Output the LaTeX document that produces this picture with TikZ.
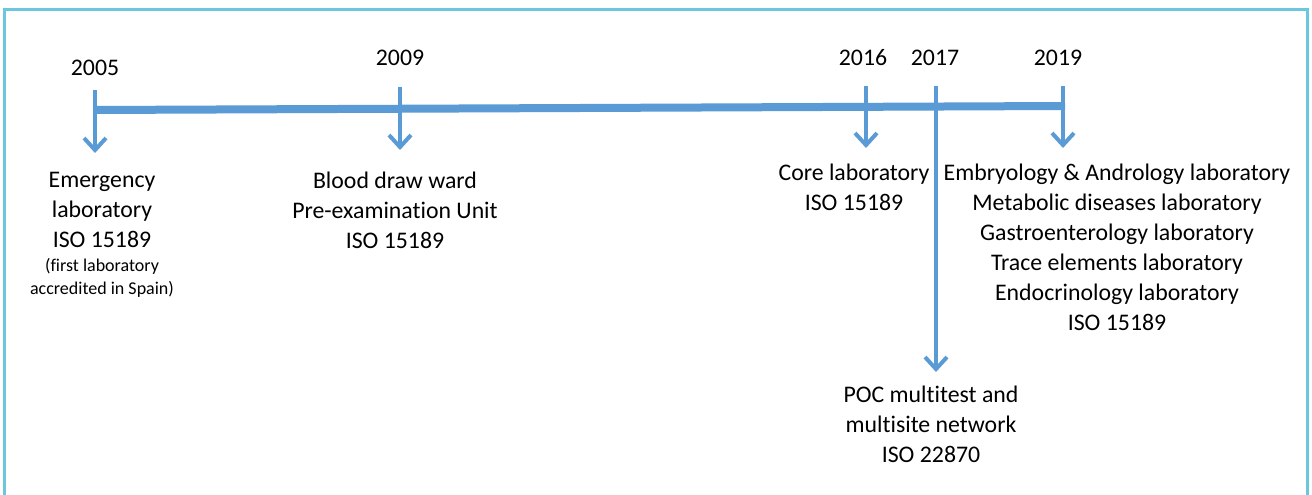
\documentclass[tikz,border=0pt]{standalone}
\usepackage{fontspec}
\setmainfont{Carlito}[Ligatures={NoCommon}]
\usetikzlibrary{arrows.meta}
\definecolor{tl}{HTML}{5B9BD5}
\definecolor{fr}{HTML}{6CC6DE}
\begin{document}
\begin{tikzpicture}[x=1pt,y=-1pt,
  txt/.style={inner sep=0pt,align=center,font=\fontsize{23.8}{30}\selectfont},
  small/.style={inner sep=0pt,align=center,font=\fontsize{18}{23}\selectfont},
  tick/.style={draw=tl,line width=4pt,-{Straight Barb[length=12pt,width=22pt]}},
  bar/.style={draw=tl,line width=8pt}]
\useasboundingbox (0,0) rectangle (1312,495);
\fill[white] (0,0) rectangle (1312,495);
\draw[fr,line width=3pt] (4.5,520) -- (4.5,10) -- (1307.5,10) -- (1307.5,520);
% years
\node[txt] (y2005) at (95,68) {2005};
\node[txt] (y2009) at (400,58) {2009};
\node[txt] (y2016) at (863,58) {2016};
\node[txt] (y2017) at (935,58) {2017};
\node[txt] (y2019) at (1058,58) {2019};
% timeline
\coordinate (s) at (95,110);
\coordinate (e) at (1065,106);
\draw[bar] (s) -- (e);
% ticks
\coordinate (t1a) at (95,90);   \coordinate (t1b) at (95,153);
\coordinate (t2a) at (400,87);  \coordinate (t2b) at (400,150);
\coordinate (t3a) at (866,86);  \coordinate (t3b) at (866,148);
\coordinate (t4a) at (936,86);  \coordinate (t4b) at (936,372);
\coordinate (t5a) at (1063,86); \coordinate (t5b) at (1063,148);
\draw[tick] (t1a) -- (t1b);
\draw[tick] (t2a) -- (t2b);
\draw[tick] (t3a) -- (t3b);
\draw[tick] (t4a) -- (t4b);
\draw[tick] (t5a) -- (t5b);
% texts
\node[txt] (emerg) at (102,210) {Emergency\\laboratory\\ISO 15189};
\node[small] (first) at (102,277.5) {(first laboratory\\accredited in Spain)};
\node[txt] (blood) at (395,210) {Blood draw ward\\Pre-examination Unit\\ISO 15189};
\node[txt] (core) at (854,187) {Core laboratory\\ISO 15189};
\node[txt] (embryo) at (1117,247) {Embryology \& Andrology laboratory\\Metabolic diseases laboratory\\Gastroenterology laboratory\\Trace elements laboratory\\Endocrinology laboratory\\ISO 15189};
\node[txt] (poc) at (931,424) {POC multitest and\\multisite network\\ISO 22870};
\end{tikzpicture}
\end{document}
